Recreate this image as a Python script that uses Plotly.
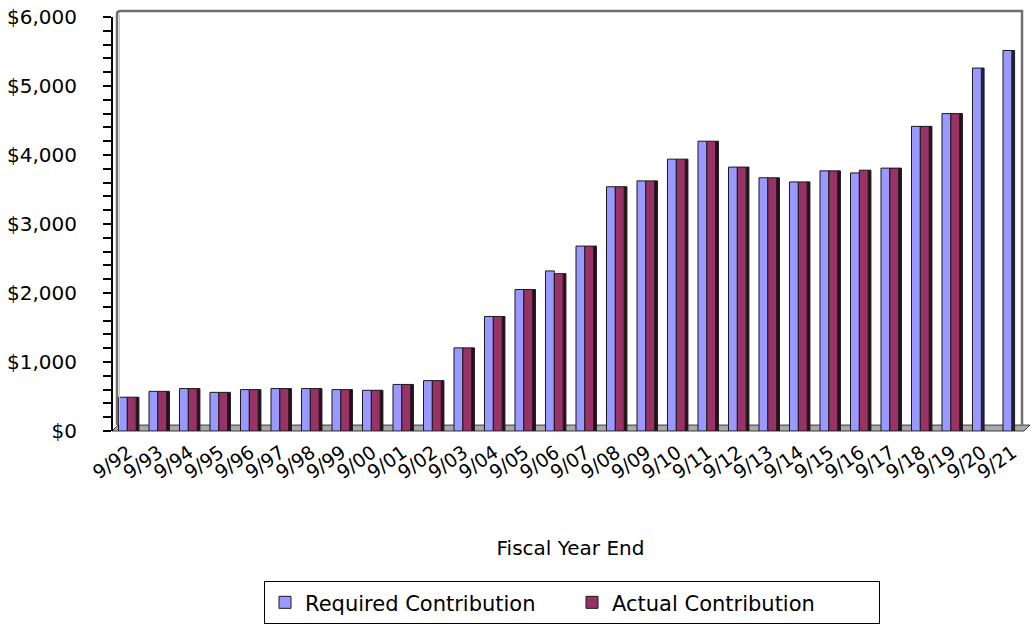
import plotly.graph_objects as go

# Fiscal years (ending in September) and contributions, in $ thousands
years = ["9/92", "9/93", "9/94", "9/95", "9/96", "9/97", "9/98", "9/99", "9/00",
         "9/01", "9/02", "9/03", "9/04", "9/05", "9/06", "9/07", "9/08", "9/09",
         "9/10", "9/11", "9/12", "9/13", "9/14", "9/15", "9/16", "9/17", "9/18",
         "9/19", "9/20", "9/21"]
required = [490, 575, 615, 560, 600, 615, 615, 600, 590, 675, 730, 1205, 1660,
            2050, 2320, 2680, 3540, 3625, 3940, 4200, 3825, 3670, 3610, 3770,
            3740, 3810, 4415, 4600, 5260, 5515]
actual = [490, 575, 615, 560, 600, 615, 615, 600, 590, 675, 730, 1205, 1660,
          2050, 2280, 2680, 3540, 3625, 3940, 4200, 3825, 3670, 3610, 3770,
          3780, 3810, 4415, 4600, None, None]
y_ticks = [0, 1000, 2000, 3000, 4000, 5000, 6000]
y_tick_text = [f"${v:,}" for v in y_ticks]

W, H = 1033, 631
L, R, T, B = 113, 5, 12, 200
FONT = "DejaVu Sans"

BLUE, MAROON = "#9999FF", "#993366"
BLUE_SIDE, MAROON_SIDE = "#22224d", "#2e0c1f"
EDGE = "#1a1a1a"

REQ_OFF, ACT_OFF, BAR_W, SIDE_W = -0.32, -0.03, 0.29, 0.09

# depth face of each column pair sits behind its rearmost bar
side_vals = [a if a is not None else r for r, a in zip(required, actual)]
side_cols = [MAROON_SIDE if a is not None else BLUE_SIDE for a in actual]
side_offs = [(ACT_OFF if a is not None else REQ_OFF) + BAR_W for a in actual]

fig = go.Figure()
fig.add_trace(go.Bar(
    x=years, y=side_vals, offset=side_offs, width=SIDE_W, showlegend=False,
    marker=dict(color=side_cols, line=dict(color=EDGE, width=1)),
    hoverinfo="skip"))
fig.add_trace(go.Bar(
    x=years, y=required, name="Required Contribution", offset=REQ_OFF, width=BAR_W,
    marker=dict(color=BLUE, line=dict(color=EDGE, width=1))))
fig.add_trace(go.Bar(
    x=years, y=actual, name="Actual Contribution", offset=ACT_OFF, width=BAR_W,
    marker=dict(color=MAROON, line=dict(color=EDGE, width=1))))

pw, ph = W - L - R, H - T - B


def px(x):
    return (x - L) / pw


def py(y):
    return (H - B - y) / ph


shapes = [
    # back wall outline
    dict(type="path", xref="paper", yref="paper",
         path=f"M {px(117)} {py(425)} L {px(117)} {py(9)} Q {px(117)} {py(6)} {px(121)} {py(6)} "
              f"L {px(1022)} {py(6)} L {px(1022)} {py(425)}",
         line=dict(color="#6e6e6e", width=2.5)),
    dict(type="line", xref="paper", yref="paper", x0=px(119.5), x1=px(119.5),
         y0=py(425), y1=py(9), line=dict(color="#c8c8c8", width=1)),
    # floor
    dict(type="path", xref="paper", yref="paper",
         path=f"M {px(112)} {py(431)} L {px(1024)} {py(431)} L {px(1030)} {py(425)} "
              f"L {px(118)} {py(425)} Z",
         fillcolor="#a9a9a9", line=dict(color="#3c3c3c", width=1), layer="below"),
]

fig.update_layout(
    width=W, height=H,
    margin=dict(l=L, r=R, t=T, b=B),
    paper_bgcolor="white", plot_bgcolor="white",
    barmode="overlay",
    font=dict(family=FONT, color="black"),
    shapes=shapes,
    showlegend=True,
    legend=dict(
        orientation="h", x=px(572), xanchor="center", y=py(583), yanchor="top",
        bordercolor="black", borderwidth=1, bgcolor="white",
        font=dict(size=21, family=FONT), entrywidth=262, entrywidthmode="pixels",
        traceorder="normal"),
)
fig.update_xaxes(
    type="category", range=[-0.5, len(years) - 0.5],
    showline=False, showgrid=False, zeroline=False, ticks="",
    tickangle=-35, tickfont=dict(size=19, family=FONT), ticklabelstandoff=6,
    title=dict(text="Fiscal Year End", font=dict(size=20, family=FONT), standoff=58),
)
fig.update_yaxes(
    range=[0, 6000], tickvals=y_ticks, ticktext=y_tick_text,
    showgrid=False, zeroline=False,
    showline=True, linecolor="black", linewidth=2,
    ticks="outside", ticklen=8, tickwidth=2, tickcolor="black",
    minor=dict(dtick=200, ticks="outside", ticklen=8, tickwidth=2, tickcolor="black"),
    tickfont=dict(size=20, family=FONT), ticklabelstandoff=22,
)

fig.write_html("out.html")
